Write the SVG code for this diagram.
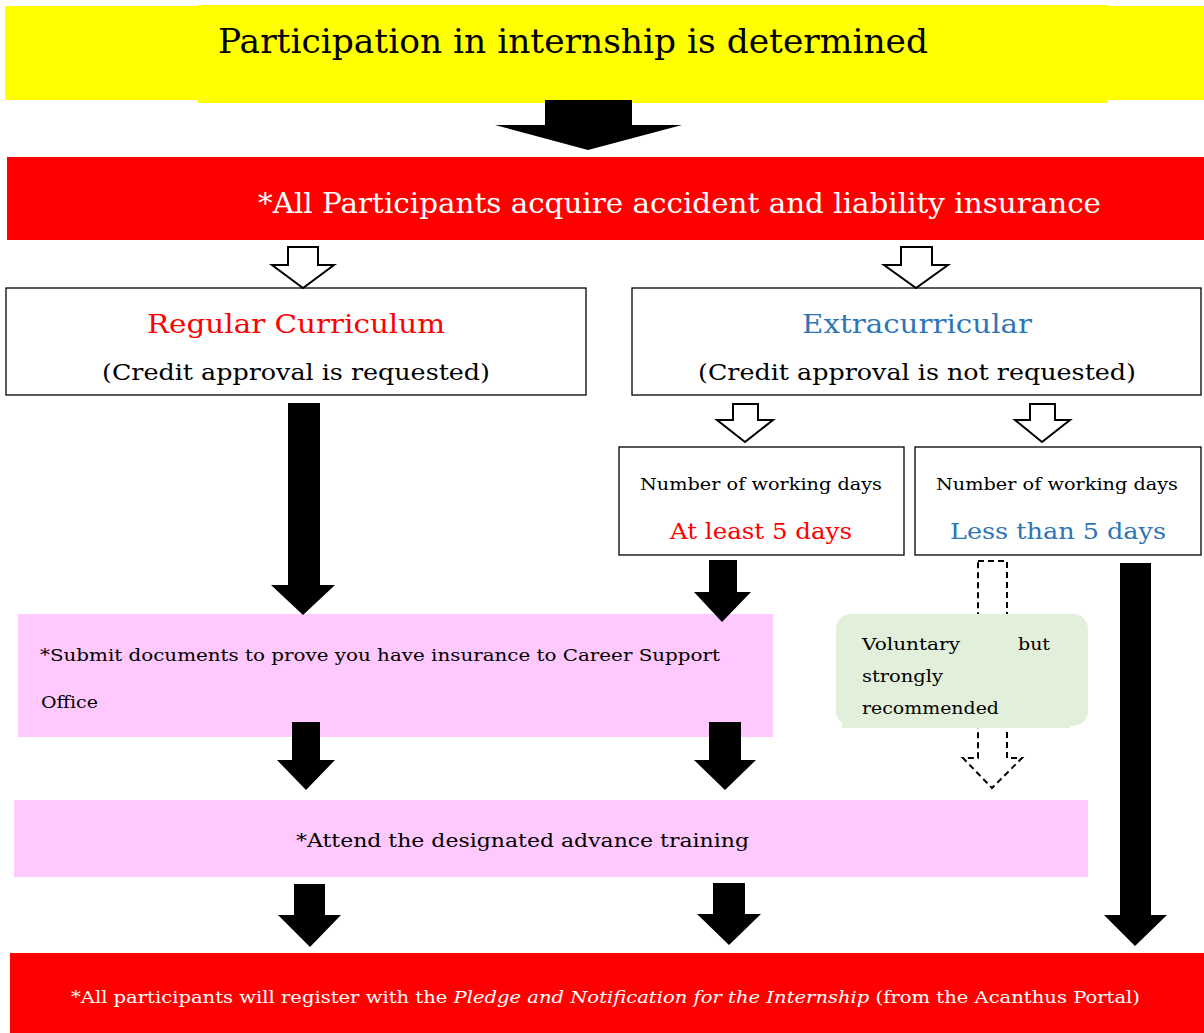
<svg xmlns="http://www.w3.org/2000/svg" width="1204" height="1033" viewBox="0 0 1204 1033" font-family="'DejaVu Serif', 'Liberation Serif', serif">
<style>
text{font-family:'DejaVu Serif','Liberation Serif',serif;}
.box{fill:#fff;stroke:#000;stroke-width:1.3;}
.blk{fill:#000;}
.hol{fill:#fff;stroke:#000;stroke-width:2;}
.pink{fill:#FFC9FF;}
</style>
<rect width="1204" height="1033" fill="#fff"/>
<g id="start">
<rect x="5" y="6" width="1199" height="94" fill="#FFFF00"/>
<rect x="198" y="5" width="910" height="98" fill="#FFFF00"/>
<text x="218" y="53" font-size="34" textLength="710" lengthAdjust="spacingAndGlyphs">Participation in internship is determined</text>
</g>
<g id="insurance">
<rect x="7" y="157" width="1197" height="83" fill="#FF0000"/>
<text x="258" y="213" font-size="28" fill="#fff" textLength="843" lengthAdjust="spacingAndGlyphs">*All Participants acquire accident and liability insurance</text>
</g>
<g id="regular">
<rect class="box" x="6" y="288" width="580" height="107"/>
<text x="296" y="333" font-size="26" fill="#FF0000" text-anchor="middle" textLength="298" lengthAdjust="spacingAndGlyphs">Regular Curriculum</text>
<text x="296" y="380" font-size="22" text-anchor="middle" textLength="388" lengthAdjust="spacingAndGlyphs">(Credit approval is requested)</text>
</g>
<g id="extra">
<rect class="box" x="632" y="288" width="569" height="107"/>
<text x="917" y="333" font-size="26" fill="#2E75B6" text-anchor="middle" textLength="230" lengthAdjust="spacingAndGlyphs">Extracurricular</text>
<text x="917" y="380" font-size="22" text-anchor="middle" textLength="438" lengthAdjust="spacingAndGlyphs">(Credit approval is not requested)</text>
</g>
<g id="atleast5">
<rect class="box" x="619" y="447" width="285" height="108"/>
<text x="761" y="490" font-size="17" text-anchor="middle" textLength="242" lengthAdjust="spacingAndGlyphs">Number of working days</text>
<text x="761" y="539" font-size="22" fill="#FF0000" text-anchor="middle" textLength="182" lengthAdjust="spacingAndGlyphs">At least 5 days</text>
</g>
<g id="lessthan5">
<rect class="box" x="915" y="447" width="286" height="108"/>
<text x="1057" y="490" font-size="17" text-anchor="middle" textLength="242" lengthAdjust="spacingAndGlyphs">Number of working days</text>
<text x="1058" y="539" font-size="22" fill="#2E75B6" text-anchor="middle" textLength="216" lengthAdjust="spacingAndGlyphs">Less than 5 days</text>
</g>
<g id="submit">
<rect class="pink" x="18" y="614" width="755" height="123"/>
<text x="40" y="661" font-size="17.5" textLength="680" lengthAdjust="spacingAndGlyphs">*Submit documents to prove you have insurance to Career Support</text>
<text x="41" y="708" font-size="17.5" textLength="57" lengthAdjust="spacingAndGlyphs">Office</text>
</g>
<g id="training">
<rect class="pink" x="14" y="800" width="1074" height="77"/>
<text x="296" y="847" font-size="19" textLength="453" lengthAdjust="spacingAndGlyphs">*Attend the designated advance training</text>
</g>
<g id="connectors">
<polygon class="blk" points="545,100 632,100 632,125 682,125 588,150 495,125 545,125"/>
<polygon class="hol" points="288,247 318,247 318,265 334,265 303,288 272,265 288,265"/>
<polygon class="hol" points="901,247 932,247 932,265 948,265 916,288 884,265 901,265"/>
<polygon class="hol" points="733,404 758,404 758,420 773,420 745,442 717,420 733,420"/>
<polygon class="hol" points="1030,404 1055,404 1055,420 1070,420 1042,442 1015,420 1030,420"/>
<polygon class="blk" points="288,403 320,403 320,585 335,585 303,615 271,585 288,585"/>
<polygon class="blk" points="709,560 737,560 737,592 751,592 722,622 694,592 709,592"/>
<polygon class="blk" points="1120,563 1151,563 1151,915 1167,915 1135,946 1104,915 1120,915"/>
<polygon points="978,561 1007,561 1007,758 1022,758 992,788 963,758 978,758" fill="none" stroke="#000" stroke-width="2" stroke-dasharray="6,4"/>
<polygon class="blk" points="292,722 320,722 320,760 335,760 306,790 277,760 292,760"/>
<polygon class="blk" points="709,722 741,722 741,760 756,760 725,790 694,760 709,760"/>
<polygon class="blk" points="294,884 325,884 325,915 341,915 310,947 278,915 294,915"/>
<polygon class="blk" points="713,883 745,883 745,914 761,914 729,945 697,914 713,914"/>
</g>
<g id="recommend">
<rect x="836" y="614" width="252" height="112" rx="15" fill="#E2EFDA"/>
<rect x="842" y="700" width="228" height="28" fill="#E2EFDA"/>
<text x="862" y="650" font-size="17" textLength="98" lengthAdjust="spacingAndGlyphs">Voluntary</text>
<text x="1018" y="650" font-size="17" textLength="32" lengthAdjust="spacingAndGlyphs">but</text>
<text x="862" y="682" font-size="17" textLength="81" lengthAdjust="spacingAndGlyphs">strongly</text>
<text x="862" y="714" font-size="17" textLength="137" lengthAdjust="spacingAndGlyphs">recommended</text>
</g>
<g id="register">
<rect x="10" y="953" width="1194" height="80" fill="#FF0000"/>
<text x="71" y="1003" font-size="16.5" fill="#fff" textLength="1069" lengthAdjust="spacingAndGlyphs">*All participants will register with the <tspan font-style="italic">Pledge and Notification for the Internship</tspan> (from the Acanthus Portal)</text>
</g>
</svg>
